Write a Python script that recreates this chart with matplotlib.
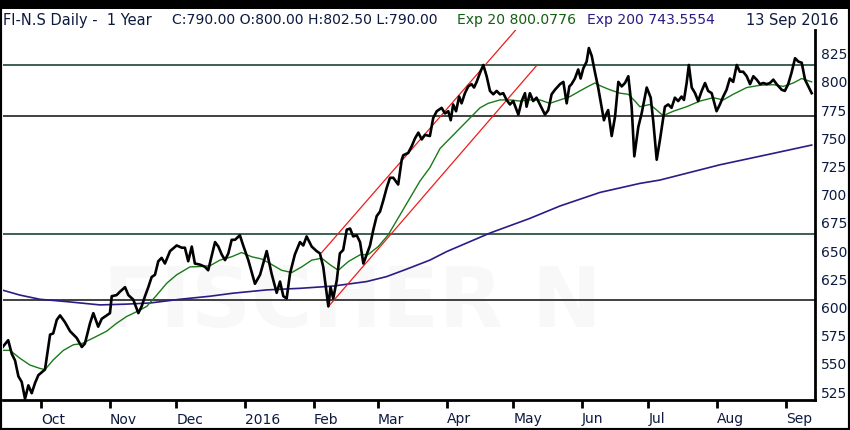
import matplotlib
matplotlib.use('Agg')
import matplotlib.pyplot as plt
import matplotlib.dates as mdates
from matplotlib.patches import Rectangle
from matplotlib.ticker import FuncFormatter
import numpy as np

# --- data, days counted from 2015-09-13 ---
price_day = [0.3, 3.2, 4.8, 6.3, 7.8, 9.3, 10.8, 12.3, 13.8, 15.3, 16.8, 19.8, 22.1, 23.5, 25.1,
             26.6, 28.8, 31.1, 34.1, 36.4, 37.8, 40.1, 41.6, 43.8, 45.4, 47.6, 49.1, 49.9, 52.1,
             53.6, 55.9, 57.4, 59.6, 61.9, 63.4, 64.9, 66.4, 67.9, 69.4, 70.9, 72.4, 73.9, 76.2,
             79.2, 81.5, 82.9, 84.4, 86.0, 87.4, 89.7, 92.0, 93.4, 96.5, 98.0, 99.5, 101.0, 102.5,
             104.0, 105.5, 107.7, 109.2, 111.5, 114.5, 116.8, 119.8, 122.0, 124.3, 125.8, 127.3,
             128.8, 130.3, 132.5, 134.8, 136.3, 137.8, 140.1, 142.3, 143.8, 145.3, 146.5, 147.6,
             148.6, 149.8, 151.4, 152.8, 154.3, 155.9, 157.4, 158.8, 160.4, 161.9, 163.4, 164.9,
             166.4, 167.9, 169.4, 170.9, 172.4, 173.9, 175.4, 176.9, 179.1, 180.7, 181.4, 183.6,
             185.2, 186.7, 188.2, 189.7, 191.2, 193.4, 194.9, 196.5, 198.7, 200.2, 201.7, 202.8,
             203.9, 205.2, 206.6, 207.7, 209.2, 210.7, 212.2, 213.3, 214.5, 216.0, 217.5, 219.0,
             220.5, 222.0, 223.5, 225.0, 226.5, 228.0, 229.5, 231.0, 233.3, 234.8, 236.3, 237.0,
             238.5, 240.0, 241.5, 243.0, 245.3, 246.8, 248.3, 249.8, 252.1, 253.6, 255.1, 256.3,
             257.3, 258.8, 260.3, 261.4, 262.6, 264.1, 265.1, 266.4, 267.8, 269.3, 270.9, 271.9,
             272.8, 273.8, 275.4, 276.9, 278.4, 279.9, 281.4, 282.9, 284.4, 285.6, 287.4, 288.9,
             291.2, 293.0, 294.2, 295.7, 297.2, 299.4, 300.9, 302.4, 303.9, 305.4, 306.9, 308.0,
             309.2, 310.2, 311.5, 313.0, 314.4, 316.0, 317.5, 318.9, 320.5, 322.7, 324.2, 325.7,
             327.2, 328.7, 330.2, 331.8, 333.2, 334.7, 336.3, 337.8, 339.3, 340.8, 342.3, 343.8,
             345.3, 346.8, 348.3, 349.8, 352.1, 353.5, 355.0, 356.5, 358.1, 359.6, 361.1, 362.6,
             364.1, 365.6]
price_close = [564, 571, 559, 553, 539, 534, 519, 531, 524, 533, 540, 545, 576, 577, 589,
               593, 587, 579, 573, 565, 568, 586, 595, 583, 590, 593, 595, 610, 611,
               614, 618, 611, 607, 595, 601, 610, 618, 627, 629, 641, 644, 639, 650,
               655, 653, 653, 641, 654, 639, 638, 636, 633, 658, 654, 647, 642, 648,
               660, 660, 664, 655, 642, 621, 629, 650, 630, 613, 623, 610,
               608, 630, 647, 658, 655, 663, 654, 650, 648, 636, 618, 601,
               618, 608, 624, 648, 651, 669, 670, 663, 664, 658, 639, 647,
               655, 669, 681, 685, 695, 706, 715, 715, 709, 731, 735, 737,
               743, 750, 755, 749, 753, 752, 768, 774, 777, 772, 774, 766,
               780, 774, 787, 781, 790, 796, 798, 795, 800, 808, 815, 805,
               792, 789, 792, 789, 790, 784, 780, 783, 771, 783, 790, 778,
               790, 783, 786, 780, 771, 775, 789, 793, 798, 800, 781, 796,
               798, 803, 811, 803, 812, 818, 830, 823, 809, 795, 777, 766,
               771, 775, 752, 769, 800, 796, 799, 805, 778, 734, 760, 772,
               795, 786, 764, 731, 749, 778, 780, 777, 786, 783, 787, 784,
               799, 815, 795, 790, 783, 792, 799, 792, 790, 774, 780, 787,
               793, 803, 800, 815, 809, 809, 805, 798, 805, 802, 798, 799,
               798, 799, 802, 798, 793, 792, 798, 808, 821, 818, 817, 802,
               796, 790]

ema20_day = [0.3, 4.0, 8.5, 13.0, 17.5, 19.8, 23.5, 28.1, 32.6, 36.4, 41.6, 47.6, 52.1, 56.6,
             61.9, 65.7, 70.2, 74.7, 79.2, 85.2, 89.7, 94.2, 98.7, 104.0, 108.5, 113.0, 117.5,
             121.3, 126.5, 131.1, 135.6, 140.1, 144.6, 148.3, 152.1, 156.6, 161.9, 165.6, 170.1,
             174.6, 179.9, 184.4, 188.9, 193.4, 198.0, 202.5, 207.0, 211.5, 216.0, 219.7, 225.0,
             229.5, 234.0, 238.5, 243.0, 247.5, 252.1, 256.6, 261.1, 264.8, 267.8, 270.9, 274.6,
             279.1, 282.9, 285.9, 288.1, 292.7, 295.7, 298.6, 303.2, 309.2, 315.2, 321.2, 325.7,
             330.2, 336.3, 342.3, 348.3, 352.8, 357.3, 361.1, 365.6]
ema20_val = [562, 562, 555, 549, 546, 545, 553.5, 562, 567, 568, 573, 579, 586, 592,
             597, 601, 611, 621.5, 629, 636, 636.3, 637, 642, 645, 648.7, 645, 643,
             639, 633, 631, 636, 642, 643.7, 638, 633, 640.7, 646.7, 647, 654,
             664.4, 682, 697, 712, 724, 741, 750, 759, 768, 777, 781, 784,
             784, 783, 784, 784, 781, 784, 787, 792, 796, 799, 796, 793,
             790, 789, 783, 778, 780, 775, 770, 774, 778, 783, 786, 784,
             789, 795, 797, 797.5, 796, 799, 803, 800]

ema200_day = [0.3, 8.5, 17.5, 29.6, 44.6, 56.6, 67.2, 80.7, 94.2, 104.7, 119.8, 134.8, 149.8,
              164.9, 173.9, 182.9, 193.4, 201.0, 220.5, 238.5, 252.1, 270.1, 288.1, 297.2,
              324.2, 346.8, 365.6]
ema200_val = [615.6, 611, 607.3, 605.2, 602.3, 603, 604, 607.3, 610, 612.7, 615.6, 617, 619,
              623, 627.4, 634, 642, 649.6, 666, 679, 690, 702, 710, 713,
              726.5, 736, 744]

# horizontal support / resistance levels
levels = [815, 770, 665, 607]
level_colors = ['#1d4536', '#202020', '#1d4536', '#202020']

# trend channel (start day, start value), (end day, end value)
channel_upper = [(144.6, 648.7), (232.5, 846.9)]
channel_lower = [(147.6, 600.8), (241.5, 814.4)]

start = mdates.date2num(np.datetime64('2015-09-13'))
NAVY = '#0d1a40'

fig = plt.figure(figsize=(8.5, 4.3), dpi=100)
fig.patch.set_facecolor('white')
ax = fig.add_axes([3 / 850, 1 - 400 / 430, 812 / 850, 370 / 430])

# faint watermark
ax.text(0.43, 0.26, 'FISCHER N', transform=ax.transAxes, ha='center', va='center',
        fontsize=60, fontweight='bold', color='#f8f8f8', zorder=0)

for lv, c in zip(levels, level_colors):
    ax.axhline(lv, color=c, lw=1.2, zorder=1)

ax.plot(start + np.array(ema200_day), ema200_val, color='#2e1a87', lw=1.2, zorder=2)

for seg in (channel_upper, channel_lower):
    xs = [start + p[0] for p in seg]
    ys = [p[1] for p in seg]
    ax.plot(xs, ys, color='#ee1c1c', lw=0.9, zorder=2)

ax.plot(start + np.array(ema20_day), ema20_val, color='#1a7a1a', lw=1.0, zorder=3)
ax.plot(start + np.array(price_day), price_close, color='black', lw=1.9, zorder=4,
        solid_joinstyle='round')

ax.set_xlim(start + 0.86, start + 367.1)
ax.set_ylim(518, 846)

# axes styling
for side in ('top', 'left'):
    ax.spines[side].set_visible(False)
for side in ('right', 'bottom'):
    ax.spines[side].set_linewidth(2)
    ax.spines[side].set_color('black')

ax.yaxis.tick_right()
ax.set_yticks(np.arange(525, 826, 25))
ax.tick_params(axis='y', length=0, pad=4, labelsize=10, labelcolor=NAVY)


def month_label(v, pos):
    d = mdates.num2date(v)
    return d.strftime('%Y') if d.month == 1 else d.strftime('%b')


ax.xaxis.set_major_locator(mdates.MonthLocator())
ax.xaxis.set_major_formatter(FuncFormatter(month_label))
ax.tick_params(axis='x', direction='out', length=6, width=2, pad=3,
               labelsize=10, labelcolor=NAVY)
for lbl in ax.get_xticklabels():
    lbl.set_ha('left')

# header
hy = 1 - 20 / 430
fig.text(3 / 850, hy, 'FI-N.S Daily -  1 Year', fontsize=10.5, color=NAVY, va='center')
fig.text(172 / 850, hy, 'C:790.00 O:800.00 H:802.50 L:790.00', fontsize=10.1,
         color=NAVY, va='center')
fig.text(457 / 850, hy, 'Exp 20 800.0776', fontsize=10.1, color='#136013', va='center')
fig.text(587 / 850, hy, 'Exp 200 743.5554', fontsize=10.1, color='#2e1a87', va='center')
fig.text(838 / 850, hy, '13 Sep 2016', fontsize=10.5, color=NAVY, va='center', ha='right')

# black top band and outer frame
fig.patches.append(Rectangle((0, 1 - 9 / 430), 1, 9 / 430, transform=fig.transFigure,
                             facecolor='black', edgecolor='none', zorder=10))
fig.patches.append(Rectangle((0, 0), 1, 1, transform=fig.transFigure, fill=False,
                             edgecolor='black', lw=3, zorder=10))

fig.savefig('out.png', dpi=100)
